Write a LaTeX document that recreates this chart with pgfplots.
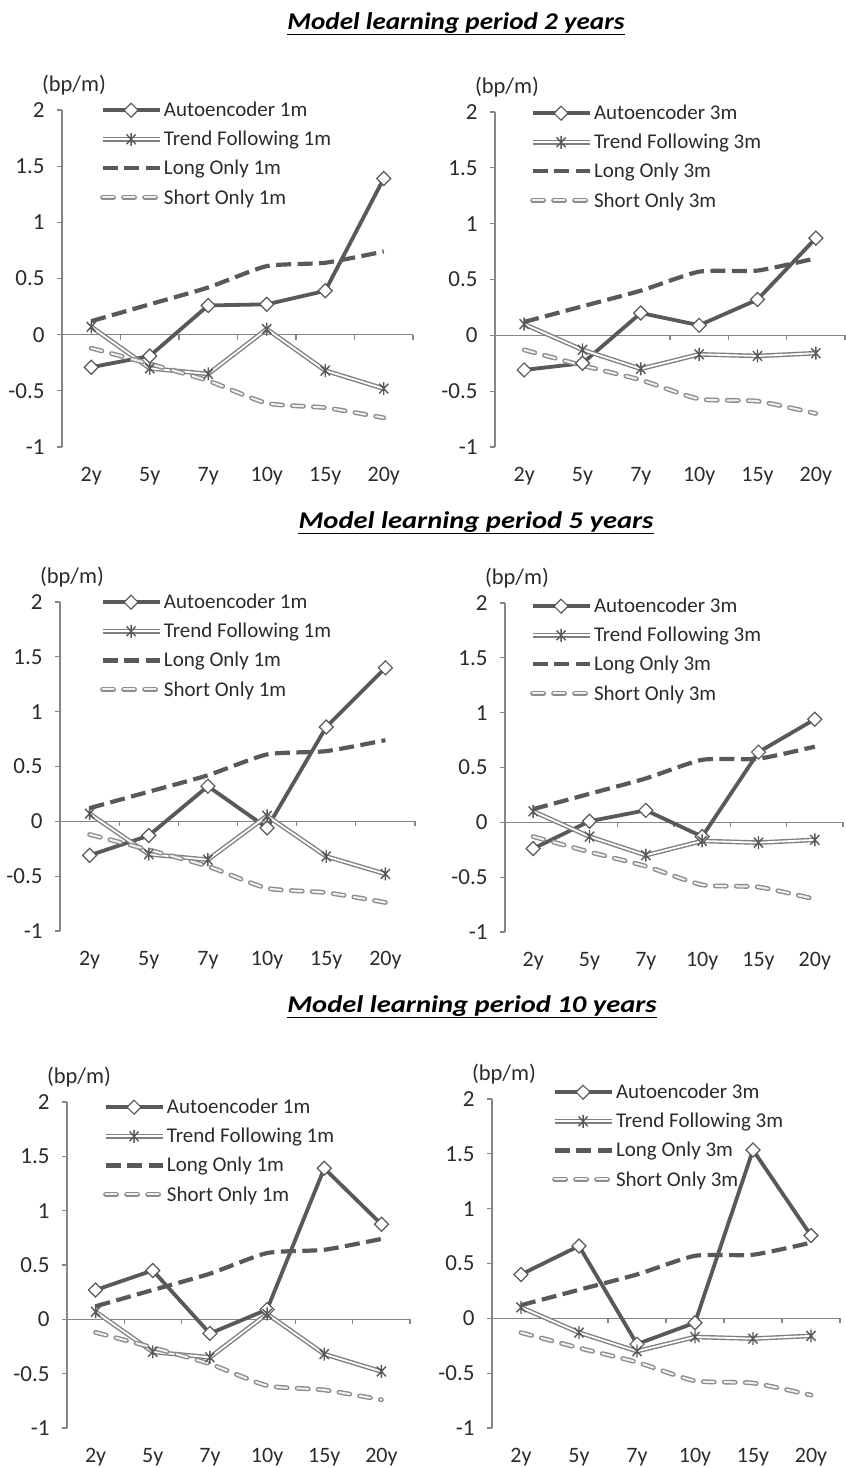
\documentclass[border=0pt]{standalone}
\usepackage{pgfplots}
\pgfplotsset{compat=1.18}
\usepackage{pgfplotstable}
\usepackage{graphicx}
\usepackage{fontspec}
\setmainfont{Carlito}
\definecolor{aeg}{HTML}{595959}
\definecolor{tfg}{HTML}{7F7F7F}
\definecolor{sog}{HTML}{8C8C8C}
\definecolor{axg}{HTML}{868686}
\definecolor{txt}{HTML}{2B2B2B}

\pgfdeclareplotmark{sqdiamond}{%
  \pgfpathmoveto{\pgfqpoint{0pt}{\pgfplotmarksize}}%
  \pgfpathlineto{\pgfqpoint{\pgfplotmarksize}{0pt}}%
  \pgfpathlineto{\pgfqpoint{0pt}{-\pgfplotmarksize}}%
  \pgfpathlineto{\pgfqpoint{-\pgfplotmarksize}{0pt}}%
  \pgfpathclose
  \pgfusepathqfillstroke}
\pgfdeclareplotmark{xstar}{%
  \pgfpathmoveto{\pgfqpoint{0pt}{\pgfplotmarksize}}%
  \pgfpathlineto{\pgfqpoint{0pt}{-\pgfplotmarksize}}%
  \pgfpathmoveto{\pgfqpoint{-0.7\pgfplotmarksize}{0.75\pgfplotmarksize}}%
  \pgfpathlineto{\pgfqpoint{0.7\pgfplotmarksize}{-0.75\pgfplotmarksize}}%
  \pgfpathmoveto{\pgfqpoint{-0.7\pgfplotmarksize}{-0.75\pgfplotmarksize}}%
  \pgfpathlineto{\pgfqpoint{0.7\pgfplotmarksize}{0.75\pgfplotmarksize}}%
  \pgfusepathqstroke}

\pgfplotstableread{
x tf lo so a2 a5 a10
0 0.07 0.12 -0.12 -0.29 -0.31 0.27
1 -0.30 0.27 -0.26 -0.19 -0.13 0.45
2 -0.35 0.42 -0.41 0.26 0.32 -0.13
3 0.05 0.61 -0.61 0.27 -0.06 0.09
4 -0.32 0.64 -0.65 0.39 0.86 1.39
5 -0.48 0.74 -0.74 1.39 1.40 0.875
}\tabone
\pgfplotstableread{
x tf lo so a2 a5 a10
0 0.10 0.12 -0.13 -0.31 -0.24 0.40
1 -0.13 0.26 -0.27 -0.25 0.01 0.66
2 -0.30 0.40 -0.40 0.20 0.11 -0.235
3 -0.17 0.57 -0.57 0.09 -0.13 -0.04
4 -0.185 0.58 -0.59 0.32 0.64 1.535
5 -0.16 0.69 -0.70 0.87 0.94 0.755
}\tabthree

\pgfplotsset{
  aestyle/.style={draw=aeg, line width=3.8pt, mark=sqdiamond, mark size=7pt,
    mark options={solid, fill=white, draw=aeg, line width=1.2pt}},
  tfstyle/.style={draw=tfg, line width=1.4pt, double=white, double distance=1.8pt,
    mark=xstar, mark size=6.5pt, mark options={solid, draw=aeg, line width=1.4pt}},
  lostyle/.style={draw=aeg, line width=4.2pt, dash pattern=on 15pt off 6.5pt, smooth, tension=0.35},
  sostyle/.style={draw=sog, line width=1.4pt, double=white!94!black, double distance=2pt,
    dash pattern=on 11pt off 10pt, line cap=round, smooth, tension=0.35},
  legend image code/.code={\draw[mark repeat=2,mark phase=2,#1] plot coordinates {(0pt,0pt) (28.5pt,0pt) (57pt,0pt)};},
}

\newcommand\Panel[9]{%
  \pgfmathsetmacro\W{#2-#1}%
  \pgfmathsetmacro\H{#4-#3}%
  \pgfmathsetmacro\Y{1468-#4}%
  \pgfmathsetmacro\LX{(#5-#1)/(#2-#1)}%
  \pgfmathsetmacro\LY{(#4-#6+10)/(#4-#3)}%
  \begin{axis}[at={(#1pt,\Y pt)}, anchor=south west, scale only axis,
    width=\W pt, height=\H pt,
    xmin=-0.5, xmax=5.5, ymin=-1, ymax=2,
    axis y line=left, axis x line=bottom,
    axis line style={-, draw=axg, line width=1.3pt},
    x axis line style={draw=none},
    xtick={0,...,5}, xticklabels={2y,5y,7y,10y,15y,20y},
    x tick style={draw=none},
    ytick={-1,-0.5,0,0.5,1,1.5,2}, yticklabels={-1,-0.5,0,0.5,1,1.5,2},
    y tick style={draw=axg, line width=1.3pt},
    tick align=outside, major tick length=5pt,
    ticklabel style={font=\fontsize{22}{26}\selectfont, text=txt},
    yticklabel style={xshift=-9pt, font=\fontsize{23}{27}\selectfont},
    xticklabel style={yshift=-12pt},
    legend style={at={(\LX,\LY)}, anchor=north west, draw=none, fill=none,
      font=\fontsize{21}{25}\selectfont, text=txt, row sep=9pt, inner sep=0pt},
    legend cell align=left,
    clip=false]
    \addplot[draw=axg, line width=1.3pt, forget plot] coordinates {(-0.5,0) (5.5,0)};
    \pgfplotsinvokeforeach{0.5,1.5,2.5,3.5,4.5,5.5}{\draw[axg, line width=1.3pt] (axis cs:##1,0) -- ++(0pt,-5pt);}
    \addplot[aestyle] table[x=x,y=#8]{#7};
    \addlegendentry{Autoencoder #9}
    \addplot[tfstyle] table[x=x,y=tf]{#7};
    \addlegendentry{Trend Following #9}
    \addplot[lostyle] table[x=x,y=lo]{#7};
    \addlegendentry{Long Only #9}
    \addplot[sostyle] table[x=x,y=so]{#7};
    \addlegendentry{Short Only #9}
  \end{axis}
  \pgfmathsetmacro\BX{#1+12}%
  \pgfmathsetmacro\BY{1468-#3+25}%
  \node[font=\fontsize{22.5}{26}\selectfont, text=txt] at (\BX pt,\BY pt) {(bp/m)};
}

\newcommand\Title[5]{%
  \node[anchor=base, inner sep=0pt, font=\fontsize{24}{28}\selectfont\bfseries\itshape] (#4) at (#1pt,{(1468-#2)*1pt}) {\scalebox{#5}[1]{#3}};
  \draw[line width=1.4pt] ([yshift=-4.5pt]#4.base west) -- ([yshift=-4.5pt]#4.base east);
}

\begin{document}
\begin{tikzpicture}
\path[use as bounding box] (0pt,0pt) rectangle (846pt,1468pt);
\Title{456}{30}{Model learning period 2 years}{ta}{1.13}
\Title{476}{529}{Model learning period 5 years}{tb}{1.19}
\Title{472}{1013}{Model learning period 10 years}{tc}{1.19}
\Panel{62}{413}{110}{447}{100}{110}{\tabone}{a2}{1m}
\Panel{495}{845}{112}{447}{530}{113}{\tabthree}{a2}{3m}
\Panel{60}{415}{602}{931}{100}{602}{\tabone}{a5}{1m}
\Panel{505}{843}{603}{932}{530}{606}{\tabthree}{a5}{3m}
\Panel{67}{410}{1102}{1428}{103}{1107}{\tabone}{a10}{1m}
\Panel{492}{840}{1099}{1428}{552}{1092}{\tabthree}{a10}{3m}
\end{tikzpicture}
\end{document}
